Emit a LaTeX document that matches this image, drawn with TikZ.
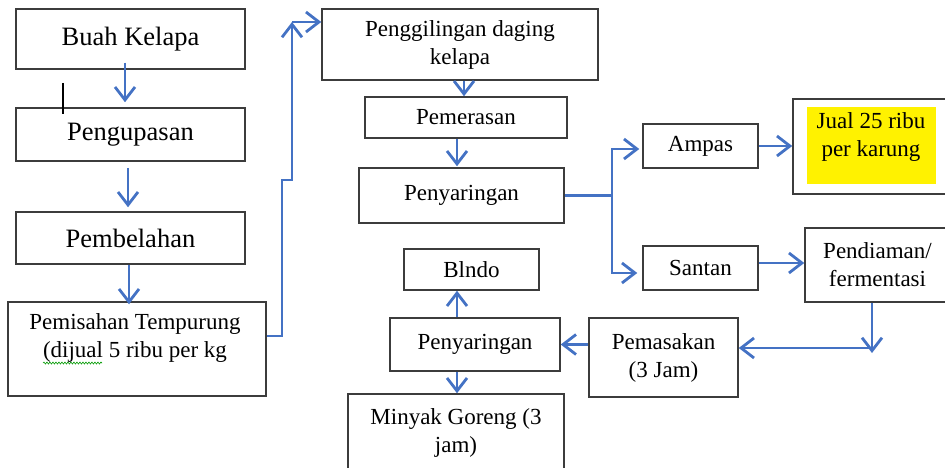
\documentclass[tikz,border=0pt]{standalone}
\usepackage{fontspec}
\setmainfont{Liberation Serif}
\usetikzlibrary{arrows.meta,decorations.pathmorphing}
\definecolor{flowblue}{HTML}{4472C4}
\definecolor{boxgray}{HTML}{3C3C3C}

\begin{document}
\begin{tikzpicture}
    [x=1pt,y=-1pt,
     box/.style={draw=boxgray,line width=1.5pt,align=center,inner sep=2pt,
       font=\fontsize{23}{28}\selectfont},
     bigbox/.style={box,font=\fontsize{26.5}{30}\selectfont},
     link/.style={draw=flowblue,line width=2.8pt},
     flow/.style={link,-{Straight Barb[length=13pt,width=20pt]}}]

  \useasboundingbox (0,0) rectangle (945,468);
  \clip (0,0) rectangle (945,468);

  % left column
  \foreach \name/\y/\h/\text in {buah/39/60/Buah Kelapa, kupas/134.5/53/Pengupasan, belah/238/52/Pembelahan}
    \node[bigbox,minimum width=229pt,minimum height=\h pt] (\name) at (130.5,\y) {\text};

  \node[box,minimum width=258pt,minimum height=94pt] (pisah) at (137,349) {};
  \node[box,draw=none,anchor=north] (pisahtext) at (135,311) {Pemisahan Tempurung\\(dijual 5 ribu per kg};
  \draw[green!60!black,line width=0.6pt,decorate,
        decoration={snake,amplitude=1pt,segment length=3pt}] (43,363) -- (102,363);
  \draw[line width=1.6pt] (63,83) -- (63,114);

  % one-line boxes
  \foreach \name/\x/\y/\w/\h/\text in {peras/466/117.5/202/41/Pemerasan,
      saring/461.5/195.5/205/55/Penyaringan, ampas/700.5/146/115/44/Ampas,
      santan/700.5/268/115/44/Santan, saringb/475/344.5/170/53/Penyaringan,
      blndo/471.5/269.5/135/41/Blndo}
    \node[box,minimum width=\w pt,minimum height=\h pt] (\name) at (\x,\y) {\text};

  % two-line boxes
  \node[box,minimum width=276pt,minimum height=71pt] (giling) at (460,44.5) {Penggilingan daging\\kelapa};
  \node[box,minimum width=145pt,minimum height=74pt] (diam) at (877.5,265) {Pendiaman/\\fermentasi};
  \node[box,minimum width=149pt,minimum height=79pt] (masak) at (663.5,357.5) {Pemasakan\\(3 Jam)};
  \node[box,minimum width=216pt,minimum height=77pt] (minyak) at (456,432.5) {Minyak Goreng (3\\jam)};

  \node[box,minimum width=157pt,minimum height=95pt] (jual) at (871.5,146.5) {};
  \fill[yellow] (807,107) rectangle (936,184);
  \node[box,draw=none] (jualtext) at (871,137) {Jual 25 ribu\\per karung};

  % arrows
  \foreach \from/\to/\dx/\pre/\gap in {buah/kupas/-5.5/-7/5, kupas/belah/-2.5/6/4, belah/pisah/-1.5/0/-3}
    \draw[flow,shorten <=\pre pt,shorten >=\gap pt] ([xshift=\dx pt]\from.south) -- ([xshift=\dx pt]\from.south |- \to.north);

  \coordinate (rise) at (292,22);
  \draw[flow] ([yshift=13pt]pisah.east) -| (282,180) -| (rise);
  \draw[flow] (rise) -- (rise -| giling.west);

  \draw[flow] ([xshift=4pt]giling.south) -- ([xshift=4pt]giling.south |- peras.north);
  \draw[flow,shorten >=1pt] ([xshift=-9pt]peras.south) -- ([xshift=-9pt]peras.south |- saring.north);

  \coordinate (split) at (612,195.5);
  \draw[link] (saring.east) -- (split);
  \draw[flow,shorten >=3pt] (split) |- ([yshift=-3pt]ampas.west);
  \draw[flow,shorten >=5pt] (split) |- ([yshift=-5pt]santan.west);

  \draw[flow] (ampas.east) -- (ampas.east -| jual.west);
  \draw[flow] ([yshift=5pt]santan.east) -- ([yshift=5pt]santan.east -| diam.west);

  \coordinate (drop) at (872,353);
  \coordinate (turn) at (872,348);
  \draw[flow] (drop |- diam.south) -- (drop);
  \draw[flow] (turn) -- (turn -| masak.east);
  \draw[flow] (saringb.east -| masak.west) -- (saringb.east);

  \draw[flow] ([xshift=-18pt]saringb.north) -- ([xshift=-18pt]saringb.north |- blndo.south);
  \draw[flow] ([xshift=-18pt]saringb.south) -- ([xshift=-18pt]saringb.south |- minyak.north);
\end{tikzpicture}
\end{document}
